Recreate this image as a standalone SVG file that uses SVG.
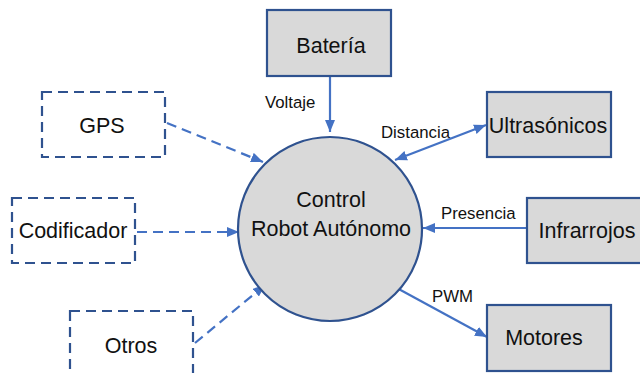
<svg xmlns="http://www.w3.org/2000/svg" width="640" height="373" viewBox="0 0 640 373">
<style>
.box{fill:#d9d9d9;stroke:#2f528f;stroke-width:2.2}
.dbox{fill:none;stroke:#2f528f;stroke-width:2.2;stroke-dasharray:10 6}
.lbl{font-family:"Liberation Sans",Arial,sans-serif;font-size:21.5px;fill:#111;text-anchor:middle}
.elbl{font-family:"Liberation Sans",Arial,sans-serif;font-size:16.8px;fill:#111}
.conn{stroke:#4472c4;stroke-width:2.2;fill:none}
.dash{stroke-dasharray:10 6}
</style>
<defs>
<marker id="ah" viewBox="0 0 12 10" refX="12" refY="5" markerWidth="12" markerHeight="10" markerUnits="userSpaceOnUse" orient="auto-start-reverse">
<path d="M0,0 L12,5 L0,10 Z" fill="#4472c4"/>
</marker>
</defs>
<g id="connectors">
<line class="conn" x1="330" y1="77" x2="330" y2="132" marker-end="url(#ah)"/>
<line class="conn dash" x1="167" y1="123" x2="263" y2="162" marker-end="url(#ah)"/>
<line class="conn dash" x1="137" y1="232" x2="239" y2="232" marker-end="url(#ah)"/>
<line class="conn dash" x1="195" y1="343" x2="265" y2="285" marker-end="url(#ah)"/>
<line class="conn" x1="395" y1="160" x2="486" y2="125" marker-start="url(#ah)" marker-end="url(#ah)"/>
<line class="conn" x1="527" y1="228" x2="423" y2="228" marker-end="url(#ah)"/>
<line class="conn" x1="395" y1="287" x2="487" y2="337" marker-end="url(#ah)"/>
<text class="elbl" x="265" y="108">Voltaje</text>
<text class="elbl" x="381" y="138">Distancia</text>
<text class="elbl" x="441" y="219">Presencia</text>
<text class="elbl" x="432" y="302">PWM</text>
</g>
<g id="control">
<circle cx="330" cy="229" r="92" fill="#d9d9d9" stroke="#2f528f" stroke-width="2.2"/>
<text class="lbl" x="331" y="207">Control</text>
<text class="lbl" x="331" y="236">Robot Autónomo</text>
</g>
<g id="bateria">
<rect class="box" x="267" y="10" width="124" height="66"/>
<text class="lbl" x="331" y="53">Batería</text>
</g>
<g id="gps">
<rect class="dbox" x="42" y="92" width="123" height="65"/>
<text class="lbl" x="102" y="133">GPS</text>
</g>
<g id="codificador">
<rect class="dbox" x="12" y="198" width="123" height="65"/>
<text class="lbl" x="73" y="238">Codificador</text>
</g>
<g id="otros">
<rect class="dbox" x="70" y="311" width="123" height="66"/>
<text class="lbl" x="131" y="353">Otros</text>
</g>
<g id="ultrasonicos">
<rect class="box" x="487" y="92" width="124" height="65"/>
<text class="lbl" x="548" y="133">Ultrasónicos</text>
</g>
<g id="infrarrojos">
<rect class="box" x="527" y="198" width="124" height="65"/>
<text class="lbl" x="587" y="238">Infrarrojos</text>
</g>
<g id="motores">
<rect class="box" x="487" y="305" width="124" height="66"/>
<text class="lbl" x="544" y="345">Motores</text>
</g>
</svg>
